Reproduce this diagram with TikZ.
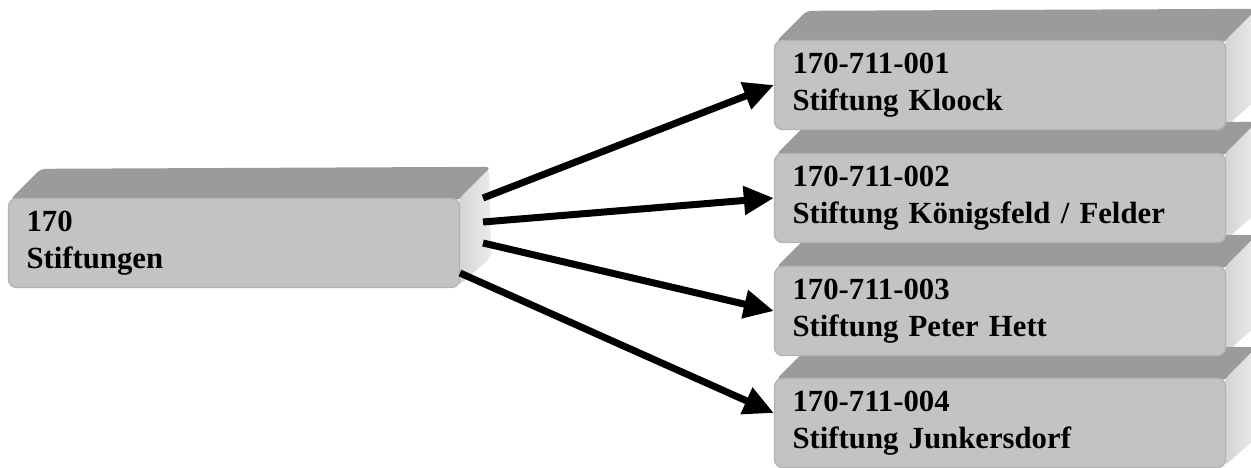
\documentclass[tikz,border=0pt]{standalone}
\usepackage{fontspec}
\setmainfont{Liberation Serif}
\usetikzlibrary{positioning}
\usetikzlibrary{arrows.meta}
\usetikzlibrary{backgrounds}
\usetikzlibrary{calc}
\definecolor{frontgray}{HTML}{C3C3C3}
\definecolor{edgegray}{HTML}{B4B4B4}
\definecolor{topgray}{HTML}{9B9B9B}
\definecolor{sidedark}{HTML}{D4D4D4}
\definecolor{sidelight}{HTML}{EBEBEB}

\begin{document}
\begin{tikzpicture}[x=0.02cm, y=-0.02cm,
    boxnode/.style={shape=rectangle, rounded corners=0.16cm, fill=frontgray, draw=edgegray, line width=0.8,
        minimum width=9.02cm, minimum height=1.78cm, text width=8.3cm, inner xsep=0.36cm, align=left,
        font=\fontsize{17.5}{21}\selectfont\bfseries},
    topface/.style={fill=topgray, rounded corners=0.1cm},
    sideface/.style={left color=sidedark, right color=sidelight, rounded corners=0.1cm},
    link/.style={line width=0.14cm, -{Triangle[length=0.6cm, width=0.55cm]}}
]
\useasboundingbox (0,0) rectangle (1251,467);

% Boxes
\node[boxnode] (root) at (234,243) {170\\Stiftungen};
\node[boxnode] (kloock) at (1000,85) {170-711-001\\Stiftung Kloock};
\node[boxnode] (koenigsfeld) at (1000,198) {170-711-002\\Stiftung Königsfeld / Felder};
\node[boxnode] (hett) at (1000,311) {170-711-003\\Stiftung Peter Hett};
\node[boxnode] (junkersdorf) at (1000,423) {170-711-004\\Stiftung Junkersdorf};

% 3d faces
\begin{pgfonlayer}{background}
\foreach \n in {root,kloock,koenigsfeld,hett,junkersdorf} {
  \path[topface] ($(\n.north west)+(2,2)$) -- ++(31,-31) -- ($(\n.north east)+(31,-31)$) -- ($(\n.north east)+(0,2)$) -- cycle;
  \path[sideface] ($(\n.north east)+(-2,2)$) -- ++(31,-31) -- ($(\n.south east)+(31,-31)$) -- ($(\n.south east)+(-2,-2)$) -- cycle;
}
\end{pgfonlayer}

% Coordinates
\coordinate (root_out1) at (483,198);
\coordinate (root_out2) at (483,222);
\coordinate (root_out3) at (483,243);
\coordinate (root_out4) at (460,273);

% Arrows
\draw[link] (root_out1) -- (kloock.west);
\draw[link] (root_out2) -- (koenigsfeld.west);
\draw[link] (root_out3) -- (hett.west);
\draw[link] (root_out4) -- ([yshift=0.2cm]junkersdorf.west);

\end{tikzpicture}
\end{document}
